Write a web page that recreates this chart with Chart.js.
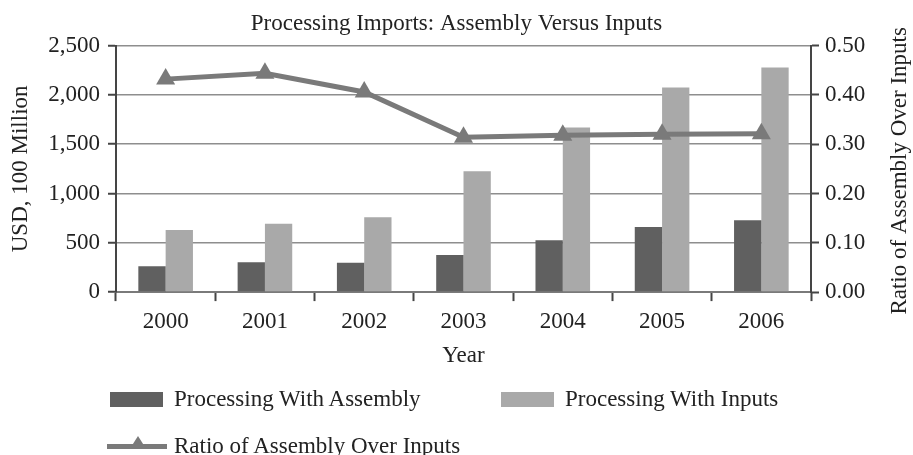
<!DOCTYPE html>
<html>
<head>
<meta charset="utf-8">
<script src="https://cdn.jsdelivr.net/npm/chart.js@4"></script>
<style>
  html, body { margin: 0; padding: 0; background: #fff; }
  #wrap { position: relative; width: 913px; height: 455px; }
  #legend { position: absolute; left: 0; top: 0; width: 913px; height: 455px; pointer-events: none;
            font-family: 'Liberation Serif', 'Times New Roman', serif; font-size: 23px; color: #222; }
  .item { position: absolute; display: flex; align-items: center; white-space: nowrap; }
  .swatch { width: 53px; height: 15px; margin-right: 11px; }
  .lineSym { position: relative; width: 60px; height: 5px; margin-right: 7px; }
  .lineSym .tri { position: absolute; left: 24px; top: -8px; width: 0; height: 0;
                  border-left: 7px solid transparent; border-right: 7px solid transparent; border-bottom: 11px solid; }
</style>
</head>
<body>
<div id="wrap">
  <canvas id="chart" width="913" height="455"></canvas>
  <div id="legend"></div>
</div>
<script>
// Data
const years = ['2000', '2001', '2002', '2003', '2004', '2005', '2006'];
const withAssembly = [261, 302, 298, 376, 525, 661, 729];
const withInputs = [630, 694, 759, 1226, 1670, 2076, 2279];
const ratio = [0.432, 0.444, 0.406, 0.314, 0.318, 0.320, 0.321];

const usdTicks = [0, 500, 1000, 1500, 2000, 2500];
const ratioTicks = [0, 0.1, 0.2, 0.3, 0.4, 0.5];

const FONT = "'Liberation Serif', 'Times New Roman', serif";
const darkGray = '#606060';
const lightGray = '#a9a9a9';
const lineGray = '#7a7a7a';
const axisDark = '#454545';
const gridGray = '#8e8e8e';

Chart.defaults.font.family = FONT;
Chart.defaults.font.size = 23;
Chart.defaults.color = '#222';

// right axis title reads bottom-to-top in the original, so draw it ourselves
const rightTitle = {
    id: 'rightTitle',
    afterDraw(chart) {
        const { ctx, chartArea } = chart;
        ctx.save();
        ctx.translate(900, (chartArea.top + chartArea.bottom) / 2 + 2);
        ctx.rotate(-Math.PI / 2);
        ctx.font = '23px ' + FONT;
        ctx.fillStyle = '#222';
        ctx.textAlign = 'center';
        ctx.textBaseline = 'middle';
        ctx.fillText('Ratio of Assembly Over Inputs', 0, 0);
        ctx.restore();
    }
};

const chart = new Chart(document.getElementById('chart'), {
    type: 'bar',
    data: {
        labels: years,
        datasets: [
            {
                type: 'line',
                label: 'Ratio of Assembly Over Inputs',
                data: ratio,
                yAxisID: 'y1',
                borderColor: lineGray,
                backgroundColor: lineGray,
                borderWidth: 5,
                pointStyle: 'triangle',
                pointRadius: 11,
                pointBorderWidth: 0,
                pointBackgroundColor: lineGray,
                tension: 0,
                order: 0
            },
            {
                label: 'Processing With Assembly',
                data: withAssembly,
                yAxisID: 'y',
                backgroundColor: darkGray,
                categoryPercentage: 0.55,
                barPercentage: 1,
                order: 1
            },
            {
                label: 'Processing With Inputs',
                data: withInputs,
                yAxisID: 'y',
                backgroundColor: lightGray,
                categoryPercentage: 0.55,
                barPercentage: 1,
                order: 1
            }
        ]
    },
    options: {
        responsive: false,
        animation: false,
        layout: { padding: { left: 0, right: 0, top: 0, bottom: 81 } },
        plugins: {
            legend: { display: false },
            tooltip: { enabled: false },
            title: {
                display: true,
                text: 'Processing Imports: Assembly Versus Inputs',
                color: '#222',
                font: { size: 23, weight: 'normal' },
                padding: { top: 10, bottom: 8 }
            }
        },
        scales: {
            x: {
                grid: {
                    offset: true,
                    drawOnChartArea: false,
                    tickLength: 9,
                    tickWidth: 2,
                    tickColor: axisDark
                },
                border: { display: true, color: '#7a7a7a', width: 2 },
                ticks: { padding: 8, color: '#222', font: { lineHeight: 1.1 } },
                title: { display: true, text: 'Year', color: '#222', padding: { top: 0, bottom: 4 } }
            },
            y: {
                position: 'left',
                min: 0,
                max: 2500,
                afterBuildTicks: s => { s.ticks = usdTicks.map(v => ({ value: v })); },
                afterFit: s => { s.width = 116; },
                grid: {
                    color: gridGray,
                    lineWidth: 1.5,
                    tickLength: 8,
                    tickColor: axisDark,
                    tickWidth: 2
                },
                border: { display: true, color: axisDark, width: 2 },
                ticks: {
                    padding: 8,
                    color: '#222',
                    callback: v => v.toLocaleString('en-US')
                },
                title: { display: true, text: 'USD, 100 Million', color: '#222', padding: { top: 7, bottom: 4 } }
            },
            y1: {
                position: 'right',
                min: 0,
                max: 0.5,
                afterBuildTicks: s => { s.ticks = ratioTicks.map(v => ({ value: v })); },
                afterFit: s => { s.width = 102; },
                grid: {
                    drawOnChartArea: false,
                    tickLength: 8,
                    tickColor: axisDark,
                    tickWidth: 2
                },
                border: { display: true, color: axisDark, width: 2 },
                ticks: {
                    padding: 6,
                    color: '#222',
                    callback: v => Number(v).toFixed(2)
                }
            }
        }
    },
    plugins: [rightTitle]
});

// HTML legend laid out like the original (two bars on row one, line on row two)
const legendBox = document.getElementById('legend');
const spots = {
    'Processing With Assembly': { left: 110, top: 385 },
    'Processing With Inputs': { left: 501, top: 385 },
    'Ratio of Assembly Over Inputs': { left: 107, top: 432 }
};
chart.data.datasets.forEach(ds => {
    const item = document.createElement('div');
    item.className = 'item';
    const pos = spots[ds.label];
    item.style.left = pos.left + 'px';
    item.style.top = pos.top + 'px';
    item.style.height = '28px';
    let sym;
    if (ds.type === 'line') {
        sym = document.createElement('div');
        sym.className = 'lineSym';
        sym.style.background = ds.borderColor;
        const tri = document.createElement('div');
        tri.className = 'tri';
        tri.style.borderBottomColor = ds.borderColor;
        sym.appendChild(tri);
    } else {
        sym = document.createElement('div');
        sym.className = 'swatch';
        sym.style.background = ds.backgroundColor;
    }
    const txt = document.createElement('span');
    txt.textContent = ds.label;
    item.appendChild(sym);
    item.appendChild(txt);
    legendBox.appendChild(item);
});
</script>
</body>
</html>
